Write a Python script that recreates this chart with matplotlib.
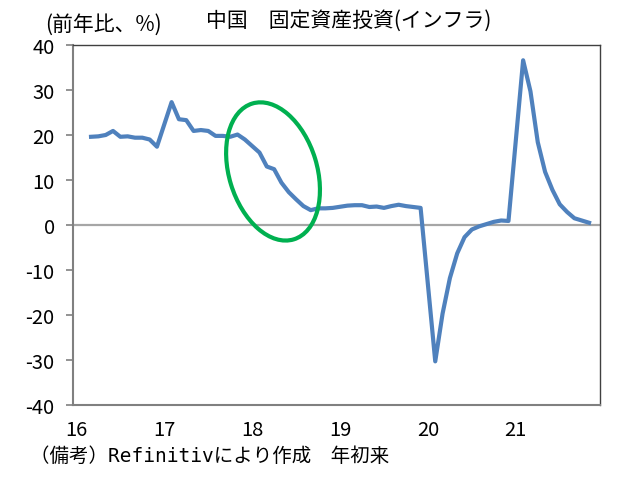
import numpy as np
import matplotlib
matplotlib.use("Agg")
import matplotlib.pyplot as plt
import matplotlib.transforms as mtransforms
from matplotlib.patches import Ellipse

plt.rcParams['font.family'] = ['Noto Sans CJK JP', 'DejaVu Sans']

# infrastructure FAI, ytd yoy % (Jan not published -> Jan-Feb shown as Feb)
months = ["2016-03", "2016-04", "2016-05", "2016-06", "2016-07", "2016-08", "2016-09",
          "2016-10", "2016-11", "2016-12",
          "2017-02", "2017-03", "2017-04", "2017-05", "2017-06", "2017-07", "2017-08",
          "2017-09", "2017-10", "2017-11", "2017-12",
          "2018-02", "2018-03", "2018-04", "2018-05", "2018-06", "2018-07", "2018-08",
          "2018-09", "2018-10", "2018-11", "2018-12",
          "2019-02", "2019-03", "2019-04", "2019-05", "2019-06", "2019-07", "2019-08",
          "2019-09", "2019-10", "2019-11", "2019-12",
          "2020-02", "2020-03", "2020-04", "2020-05", "2020-06", "2020-07", "2020-08",
          "2020-09", "2020-10", "2020-11", "2020-12",
          "2021-02", "2021-03", "2021-04", "2021-05", "2021-06", "2021-07", "2021-08",
          "2021-09", "2021-10", "2021-11"]
infra = [19.6, 19.7, 20.0, 20.9, 19.6, 19.7, 19.4, 19.4, 19.0, 17.4,
         27.3, 23.5, 23.3, 20.9, 21.1, 20.9, 19.8, 19.8, 19.6, 20.1, 19.0,
         16.1, 13.0, 12.4, 9.4, 7.3, 5.7, 4.2, 3.3, 3.7, 3.7, 3.8,
         4.3, 4.4, 4.4, 4.0, 4.1, 3.8, 4.2, 4.5, 4.2, 4.0, 3.8,
         -30.3, -19.7, -11.8, -6.3, -2.7, -1.0, -0.3, 0.2, 0.7, 1.0, 0.9,
         36.6, 29.7, 18.4, 11.8, 7.8, 4.6, 2.9, 1.5, 1.0, 0.5]
year_labels = ["16", "17", "18", "19", "20", "21"]
y_ticks = [40, 30, 20, 10, 0, -10, -20, -30, -40]

# month position: 0 = Jan 2016
pos = [(int(m[:4]) - 2016) * 12 + int(m[5:]) - 1 for m in months]

fig = plt.figure(figsize=(6.33, 4.81), dpi=100)
ax = fig.add_axes([0.1149, 0.1559, 0.833, 0.7485])

ax.plot(pos, infra, color="#4F81BD", lw=3, solid_joinstyle="round", zorder=3)
ax.axhline(0, color="#A6A6A6", lw=1.6, zorder=2)

ax.set_xlim(-0.5, 71.5)
ax.set_ylim(-40, 40)
ax.set_yticks(y_ticks)
ax.set_yticklabels([str(t) for t in y_ticks], fontsize=14.5)
ax.set_xticks([12 * k for k in range(len(year_labels))])
ax.set_xticklabels(year_labels, fontsize=14.5)
ax.tick_params(axis="x", length=0, pad=10)
ax.tick_params(axis="y", length=5, width=1.2, color="#808080", pad=8)

for s in ["top", "right"]:
    ax.spines[s].set_color("#404040")
    ax.spines[s].set_linewidth(1.0)
for s in ["left", "bottom"]:
    ax.spines[s].set_color("#808080")
    ax.spines[s].set_linewidth(1.5)

# green ellipse around the 2018 slowdown (center in data, size in inches)
trans = fig.dpi_scale_trans + mtransforms.ScaledTranslation(26.85, 11.9, ax.transData)
ax.add_patch(Ellipse((0, 0), 0.88, 1.42, angle=17, transform=trans,
                     fill=False, edgecolor="#00B050", lw=3, zorder=4))

fig.text(0.551, 0.957, "中国　固定資産投資(インフラ)", fontsize=15, ha="center", va="center")
fig.text(0.072, 0.948, "(前年比、%)", fontsize=15, ha="left", va="center")
fig.text(0.047, 0.050, "（備考）Refinitivにより作成　年初来", fontsize=14, ha="left", va="center",
         family=['DejaVu Sans Mono', 'Noto Sans CJK JP'])

fig.savefig("out.png", dpi=100)
